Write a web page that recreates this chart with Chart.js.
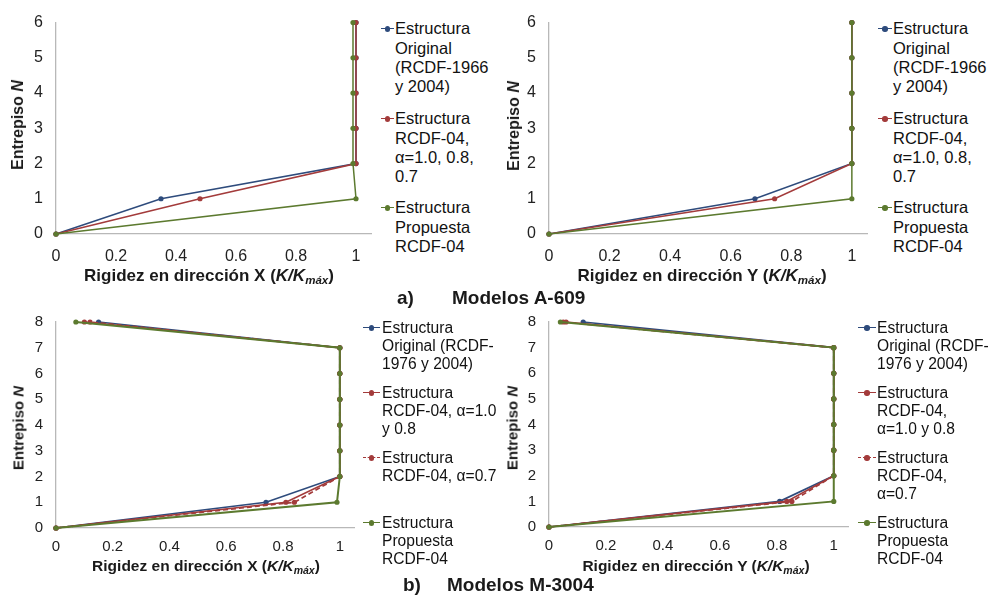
<!DOCTYPE html>
<html><head><meta charset="utf-8">
<script src="https://cdn.jsdelivr.net/npm/chart.js@4.4.1/dist/chart.umd.min.js"></script>
<style>
html,body{margin:0;padding:0;background:#fff}
#wrap{position:relative;width:992px;height:602px;overflow:hidden;background:#fff;font-family:"Liberation Sans",Arial,sans-serif;color:#1a1a1a}
canvas{position:absolute}
.yt{position:absolute;white-space:nowrap;font-weight:bold;transform:translate(-50%,-50%) rotate(-90deg);line-height:1}
.xt{position:absolute;white-space:nowrap;font-weight:bold;transform:translate(-50%,-50%);line-height:1}
.xt sub{font-size:0.68em;vertical-align:-0.3em;line-height:0}
.mt{position:absolute;white-space:nowrap;font-weight:bold;font-size:19px;line-height:1;transform:translateY(-50%)}
.lt{position:absolute;white-space:pre;color:#111}
.ll{position:absolute;height:0}
.ld{position:absolute;border-radius:50%}
</style></head><body><div id="wrap"></div>
<script>
// ---------- data ----------
const floorsA = [0, 1, 2, 3, 4, 5, 6];
const aX_original   = [0, 0.35, 1, 1, 1, 1, 1];
const aX_rcdf       = [0, 0.48, 1, 1, 1, 1, 1];
const aX_propuesta  = [0, 1.0, 0.99, 0.99, 0.99, 0.99, 0.99];
const aY_original   = [0, 0.68, 1, 1, 1, 1, 1];
const aY_rcdf       = [0, 0.745, 1, 1, 1, 1, 1];
const aY_propuesta  = [0, 1, 1, 1, 1, 1, 1];

const floorsM = [0, 1, 2, 3, 4, 5, 6, 7, 8];
const mX_original   = [0, 0.74, 1, 1, 1, 1, 1, 1, 0.15];
const mX_rcdf10     = [0, 0.81, 1, 1, 1, 1, 1, 1, 0.10];
const mX_rcdf07     = [0, 0.84, 1, 1, 1, 1, 1, 1, 0.12];
const mX_propuesta  = [0, 0.99, 1, 1, 1, 1, 1, 1, 0.07];
const mY_original   = [0, 0.81, 1, 1, 1, 1, 1, 1, 0.12];
const mY_rcdf10     = [0, 0.835, 1, 1, 1, 1, 1, 1, 0.06];
const mY_rcdf07     = [0, 0.853, 1, 1, 1, 1, 1, 1, 0.05];
const mY_propuesta  = [0, 1.0, 1, 1, 1, 1, 1, 1, 0.04];

const xTicks = [0, 0.2, 0.4, 0.6, 0.8, 1];
const yTicksA = [0, 1, 2, 3, 4, 5, 6];
const yTicksM = [0, 1, 2, 3, 4, 5, 6, 7, 8];

const legendA = [["Estructura","Original","(RCDF-1966","y 2004)"],["Estructura","RCDF-04,","α=1.0, 0.8,","0.7"],["Estructura","Propuesta","RCDF-04"]];
const legendMX = [["Estructura","Original (RCDF-","1976 y 2004)"],["Estructura","RCDF-04, α=1.0","y 0.8"],["Estructura","RCDF-04, α=0.7"],["Estructura","Propuesta","RCDF-04"]];
const legendMY = [["Estructura","Original (RCDF-","1976 y 2004)"],["Estructura","RCDF-04,","α=1.0 y 0.8"],["Estructura","RCDF-04,","α=0.7"],["Estructura","Propuesta","RCDF-04"]];

const xTitleX = "Rigidez en dirección X";
const xTitleY = "Rigidez en dirección Y";
const yTitle = "Entrepiso";
const titleA = ["a)", "Modelos A-609"];
const titleB = ["b)", "Modelos M-3004"];

// ---------- styles ----------
const BLUE = '#2E4B7C', RED = '#A33B3B', GREEN = '#5C7A2F';
const wrap = document.getElementById('wrap');

function ds(xs, ys, color, order, dash, bw) {
  return {
    data: xs.map((x, i) => ({x: x, y: ys[i]})),
    showLine: true, borderColor: color, backgroundColor: color,
    borderWidth: bw, pointRadius: 2.6, pointBorderWidth: 0, pointHoverRadius: 2.6,
    borderDash: dash || [], clip: false, order: order, tension: 0
  };
}

function panel(p) {
  const c = document.createElement('canvas');
  c.width = p.w; c.height = p.h;
  c.style.left = p.left + 'px'; c.style.top = p.top + 'px';
  wrap.appendChild(c);
  const yW = p.area.l - p.left;
  const xH = p.top + p.h - p.area.b;
  new Chart(c, {
    type: 'scatter',
    data: {datasets: p.datasets},
    options: {
      responsive: false, animation: false, devicePixelRatio: 1,
      layout: {padding: {left: 0, right: p.left + p.w - p.area.r, top: p.area.t - p.top, bottom: 0}},
      plugins: {legend: {display: false}, tooltip: {enabled: false}},
      events: [],
      scales: {
        x: {
          type: 'linear', min: 0, max: 1.05,
          grid: {display: false, drawTicks: false},
          border: {display: true, color: '#B8B8B8', width: 1.3},
          afterBuildTicks: s => { s.ticks = xTicks.map(v => ({value: v})); },
          afterFit: s => { s.height = xH; },
          ticks: {padding: p.xpad, color: '#222', font: {family: 'Liberation Sans', size: p.tickFs},
                  maxRotation: 0, autoSkip: false, callback: v => String(Math.round(v * 10) / 10)}
        },
        y: {
          type: 'linear', min: 0, max: p.ymax,
          grid: {display: false, drawTicks: false},
          border: {display: true, color: '#B8B8B8', width: 1.3},
          afterBuildTicks: s => { s.ticks = p.yTicks.map(v => ({value: v})); },
          afterFit: s => { s.width = yW; },
          ticks: {padding: 13, color: '#222', font: {family: 'Liberation Sans', size: p.tickFs}, autoSkip: false}
        }
      }
    }
  });
  // axis titles
  const xt = document.createElement('div');
  xt.className = 'xt';
  xt.style.left = p.xtc[0] + 'px'; xt.style.top = p.xtc[1] + 'px'; xt.style.fontSize = p.xtFs + 'px';
  xt.innerHTML = p.xTitle + ' (<i>K/K<sub>máx</sub></i>)';
  wrap.appendChild(xt);
  const yt = document.createElement('div');
  yt.className = 'yt';
  yt.style.left = p.ytc[0] + 'px'; yt.style.top = p.ytc[1] + 'px'; yt.style.fontSize = p.ytFs + 'px';
  yt.innerHTML = yTitle + ' <i>N</i>';
  wrap.appendChild(yt);
  // legend
  p.legend.forEach((lines, i) => {
    const cy = p.leg.rows[i];
    const col = p.leg.colors[i];
    const line = document.createElement('div');
    line.className = 'll';
    line.style.left = p.leg.x0 + 'px'; line.style.width = (p.leg.x1 - p.leg.x0) + 'px';
    line.style.top = (cy - 0.8) + 'px';
    line.style.borderTop = '1.6px ' + (p.leg.dash[i] ? 'dashed ' : 'solid ') + col;
    wrap.appendChild(line);
    const dot = document.createElement('div');
    dot.className = 'ld';
    const cx = (p.leg.x0 + p.leg.x1) / 2;
    dot.style.left = (cx - 2.7) + 'px'; dot.style.top = (cy - 2.7) + 'px';
    dot.style.width = '5.4px'; dot.style.height = '5.4px'; dot.style.background = col;
    wrap.appendChild(dot);
    const t = document.createElement('div');
    t.className = 'lt';
    t.style.left = p.leg.tx + 'px';
    t.style.top = (cy - p.leg.lh / 2) + 'px';
    t.style.fontSize = p.leg.fs + 'px';
    t.style.lineHeight = p.leg.lh + 'px';
    t.textContent = lines.join('\n');
    wrap.appendChild(t);
  });
}

const legTopRows = [29, 119, 208];
const legBotRows = [328, 393, 458, 523];

panel({
  left: 0, top: 0, w: 378, h: 270, area: {l: 56, r: 371, t: 17, b: 234}, ymax: 6, yTicks: yTicksA,
  tickFs: 16, xpad: 13, xTitle: xTitleX, xtc: [209, 275], xtFs: 17, ytc: [18, 125], ytFs: 16,
  datasets: [ds(aX_original, floorsA, BLUE, 3, null, 1.5), ds(aX_rcdf, floorsA, RED, 2, null, 1.5), ds(aX_propuesta, floorsA, GREEN, 1, null, 1.5)],
  legend: legendA,
  leg: {x0: 381, x1: 394, tx: 395, rows: legTopRows, lh: 19.3, fs: 16.5, colors: [BLUE, RED, GREEN], dash: [0, 0, 0]}
});
panel({
  left: 493, top: 0, w: 380, h: 270, area: {l: 549, r: 867, t: 17, b: 234}, ymax: 6, yTicks: yTicksA,
  tickFs: 16, xpad: 13, xTitle: xTitleY, xtc: [702, 275], xtFs: 17, ytc: [514, 126], ytFs: 16,
  datasets: [ds(aY_original, floorsA, BLUE, 3, null, 1.5), ds(aY_rcdf, floorsA, RED, 2, null, 1.5), ds(aY_propuesta, floorsA, GREEN, 1, null, 1.5)],
  legend: legendA,
  leg: {x0: 878, x1: 892, tx: 893, rows: legTopRows, lh: 19.3, fs: 16.5, colors: [BLUE, RED, GREEN], dash: [0, 0, 0]}
});
panel({
  left: 0, top: 290, w: 360, h: 270, area: {l: 56, r: 354, t: 322, b: 528}, ymax: 8, yTicks: yTicksM,
  tickFs: 15, xpad: 10, xTitle: xTitleX, xtc: [206, 566], xtFs: 15.5, ytc: [18, 428], ytFs: 15,
  datasets: [ds(mX_original, floorsM, BLUE, 4, null, 1.7), ds(mX_rcdf10, floorsM, RED, 3, null, 1.7), ds(mX_rcdf07, floorsM, RED, 2, [5, 3], 1.7), ds(mX_propuesta, floorsM, GREEN, 1, null, 2)],
  legend: legendMX,
  leg: {x0: 363, x1: 380, tx: 382, rows: legBotRows, lh: 18, fs: 15.6, colors: [BLUE, RED, RED, GREEN], dash: [0, 0, 1, 0]}
});
panel({
  left: 493, top: 290, w: 360, h: 270, area: {l: 549, r: 848, t: 322, b: 527}, ymax: 8, yTicks: yTicksM,
  tickFs: 15, xpad: 10, xTitle: xTitleY, xtc: [696, 566], xtFs: 15.5, ytc: [512, 428], ytFs: 15,
  datasets: [ds(mY_original, floorsM, BLUE, 4, null, 1.7), ds(mY_rcdf10, floorsM, RED, 3, null, 1.7), ds(mY_rcdf07, floorsM, RED, 2, [5, 3], 1.7), ds(mY_propuesta, floorsM, GREEN, 1, null, 2)],
  legend: legendMY,
  leg: {x0: 858, x1: 876, tx: 877, rows: legBotRows, lh: 18, fs: 15.6, colors: [BLUE, RED, RED, GREEN], dash: [0, 0, 1, 0]}
});

// main titles
function mainTitle(parts, xa, xb, y) {
  const a = document.createElement('div'); a.className = 'mt';
  a.style.left = xa + 'px'; a.style.top = y + 'px'; a.textContent = parts[0]; wrap.appendChild(a);
  const b = document.createElement('div'); b.className = 'mt';
  b.style.left = xb + 'px'; b.style.top = y + 'px'; b.textContent = parts[1]; wrap.appendChild(b);
}
mainTitle(titleA, 397, 452, 297);
mainTitle(titleB, 403, 447, 584);
</script></body></html>
